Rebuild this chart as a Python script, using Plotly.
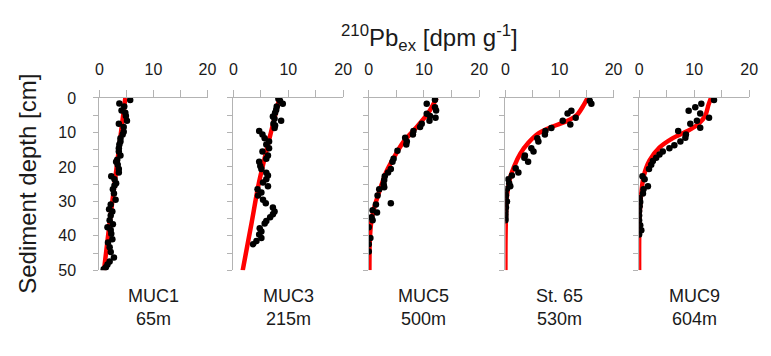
import plotly.graph_objects as go

# ---------------- data ----------------
stations = ["MUC1", "MUC3", "MUC5", "St. 65", "MUC9"]
depths_m = ["65m", "215m", "500m", "530m", "604m"]

x_ticks = [0, 10, 20]
y_ticks = [0, 10, 20, 30, 40, 50]

# measured 210Pb_ex (dpm/g) and depth (cm)
muc1_pb = [5.7, 3.7, 4.6, 4.1, 4.8, 4.9, 5.1, 3.6, 4.5, 4.5, 4.3, 3.9, 3.9, 3.7, 3.6, 3.6, 3.9, 3.3, 3.1, 3.4,
           3.6, 3.6, 2.2, 2.8, 3.1, 2.8, 2.5, 2.7, 3.0, 2.1, 1.8, 2.4, 2.1, 1.9, 2.5, 1.5, 2.1, 2.2, 2.4, 1.6,
           1.9, 2.1, 2.7, 1.9, 1.5, 1.2, 0.8]
muc1_d = [0.6, 1.6, 2.5, 3.6, 4.3, 5.2, 6.6, 7.5, 8.4, 9.8, 10.6, 11.7, 12.6, 13.5, 14.6, 15.5, 16.7, 17.9, 18.5, 19.4,
          20.6, 21.6, 22.7, 23.6, 24.7, 25.4, 26.5, 27.7, 29.5, 30.9, 32.3, 32.9, 34.1, 35.5, 36.6, 37.5, 38.3, 39.4, 41.0, 41.9,
          43.3, 44.7, 46.3, 47.4, 48.3, 49.1, 49.7]

muc3_pb = [8.2, 8.5, 9.0, 7.9, 7.8, 7.6, 7.2, 7.5, 8.7, 7.3, 7.6, 7.5, 4.7, 5.3, 5.7, 6.5, 6.0, 6.5, 5.3, 6.3,
           6.0, 4.7, 4.9, 5.1, 6.0, 6.3, 6.0, 5.4, 6.3, 4.4, 5.1, 4.5, 5.4, 5.9, 7.2, 7.5, 7.2, 6.7, 6.0, 5.7,
           4.8, 5.1, 4.7, 5.1, 4.2, 3.6]
muc3_d = [0.2, 0.8, 1.7, 2.5, 3.4, 4.3, 5.4, 6.0, 6.6, 7.5, 8.0, 8.7, 9.6, 10.6, 11.7, 12.6, 13.5, 14.6, 15.5, 16.7,
          17.6, 18.5, 19.7, 20.6, 21.7, 22.5, 23.6, 24.5, 25.6, 26.5, 27.4, 28.3, 29.5, 30.5, 31.8, 32.9, 33.7, 34.6, 35.7, 36.4,
          37.8, 38.7, 39.6, 40.6, 41.5, 42.4]

muc5_pb = [12.0, 10.5, 12.0, 12.2, 10.5, 11.1, 12.1, 11.0, 9.6, 9.3, 8.1, 8.0, 6.6, 6.9, 6.8, 5.2, 4.5, 4.3, 4.0, 3.5,
           2.9, 2.8, 2.7, 2.8, 1.9, 1.6, 1.3, 4.0, 0.7, 1.5, 0.5, 0.7, 0.0, 0.3, 0.0, 0.0]
muc5_d = [0.5, 1.7, 2.7, 3.6, 4.6, 5.2, 5.7, 6.6, 7.5, 8.4, 9.6, 10.6, 11.5, 12.6, 13.5, 15.3, 17.6, 18.5, 20.6, 21.6,
          22.7, 23.8, 25.0, 25.9, 26.5, 28.3, 30.9, 30.5, 32.6, 33.2, 34.6, 35.5, 37.5, 40.6, 42.4, 44.5]

st65_pb = [15.6, 15.9, 12.2, 11.5, 13.0, 10.6, 12.0, 8.5, 7.4, 7.3, 5.9, 6.1, 4.8, 5.2, 3.6, 3.5, 4.2, 1.9, 2.4, 1.2,
           0.5, 0.7, 0.9, 0.3, 0.0, 0.1, 0.0, 0.3, 0.0, 0.1, 0.0, 0.0, 0.0, 0.0]
st65_d = [0.8, 1.7, 3.7, 4.5, 5.7, 6.6, 7.7, 8.7, 9.6, 10.6, 11.7, 12.6, 14.6, 15.5, 16.7, 17.3, 18.5, 20.4, 21.6, 22.5,
          23.6, 24.7, 25.6, 26.3, 27.2, 28.2, 29.1, 30.0, 30.9, 31.8, 32.9, 33.9, 34.8, 35.5]

muc9_pb = [13.6, 11.3, 10.2, 9.0, 11.1, 12.7, 10.5, 9.3, 11.1, 7.1, 8.5, 8.4, 7.5, 6.4, 5.5, 4.3, 3.7, 3.1, 2.5, 2.2,
           1.8, 0.6, 1.0, 1.6, 0.8, 0.7, 0.1, 0.2, 0.1, 0.0, 0.0, 0.0, 0.2, 0.4, 0.0]
muc9_d = [0.6, 1.7, 2.7, 3.7, 4.5, 5.7, 6.6, 7.5, 8.6, 9.6, 10.6, 11.5, 12.6, 13.7, 14.6, 15.5, 16.4, 17.3, 18.3, 19.4,
          20.6, 22.7, 23.6, 25.6, 26.5, 27.7, 29.1, 30.2, 31.4, 32.8, 34.1, 35.5, 36.9, 38.4, 39.6]

# model fit curves (red)
muc1_fit_pb = [4.8, 3.8, 2.8, 1.8, 0.85]
muc1_fit_d = [0, 12.5, 25, 37.5, 50]

muc3_fit_pb = [8.4, 6.3, 4.6, 3.3, 1.7]
muc3_fit_d = [0, 13.5, 25, 36.4, 50]

muc5_fit_pb = [12.3, 10.8, 8.7, 6.35, 4.57, 3.09, 1.9, 1.0, 0.42, 0.18, 0.12]
muc5_fit_d = [0, 4.3, 8.4, 12.6, 17.2, 21.7, 27.2, 31.8, 36.4, 41.9, 50]

st65_fit_pb = [15.2, 14.5, 13.3, 11.5, 8.5, 6.06, 4.24, 2.73, 1.6, 0.8, 0.3, 0.12, 0.02, 0.0]
st65_fit_d = [0, 2.0, 4.8, 6.6, 8.4, 10.3, 13.0, 16.2, 19.9, 23.6, 28.2, 33.7, 41, 50]

muc9_fit_pb = [13.06, 12.6, 12.0, 10.8, 9.0, 6.05, 3.68, 1.9, 0.83, 0.3, 0.05, 0.0]
muc9_fit_d = [0, 2.0, 5.2, 7.5, 9.4, 11.7, 14.4, 18.1, 22.7, 29.1, 36.4, 50]

pb_series = [muc1_pb, muc3_pb, muc5_pb, st65_pb, muc9_pb]
d_series = [muc1_d, muc3_d, muc5_d, st65_d, muc9_d]
fit_pb = [muc1_fit_pb, muc3_fit_pb, muc5_fit_pb, st65_fit_pb, muc9_fit_pb]
fit_d = [muc1_fit_d, muc3_fit_d, muc5_fit_d, st65_fit_d, muc9_fit_d]

# ---------------- layout geometry (pixels) ----------------
W, H = 771, 356
panel_px = [(97, 207), (233.3, 345), (371, 483.3), (510, 620), (646, 758)]
y_top_px, y_bot_px = 94.5, 275.5

FONT = "'Liberation Sans', Arial, sans-serif"
AX = "#b3b3b3"
TXT = "#1a1a1a"

fig = go.Figure()
layout = dict(
    width=W, height=H,
    margin=dict(l=0, r=0, t=0, b=0),
    paper_bgcolor="white", plot_bgcolor="white",
    showlegend=False,
    font=dict(family=FONT, size=16, color=TXT),
)

for i in range(5):
    n = "" if i == 0 else str(i + 1)
    xa, ya = "x" + n, "y" + n
    fig.add_trace(go.Scatter(x=fit_pb[i], y=fit_d[i], mode="lines",
                             line=dict(color="#ff0000", width=4.5, shape="spline", smoothing=0.8),
                             xaxis=xa, yaxis=ya, hoverinfo="skip"))
    fig.add_trace(go.Scatter(x=pb_series[i], y=d_series[i], mode="markers",
                             marker=dict(color="black", size=6.5),
                             xaxis=xa, yaxis=ya))
    x0, x1 = panel_px[i]
    layout["xaxis" + n] = dict(
        domain=[x0 / W, x1 / W], range=[0, 20], anchor=ya, side="top",
        showline=True, linecolor=AX, linewidth=1, showgrid=False, zeroline=False,
        ticks="outside", ticklen=7, tickcolor=AX, tickwidth=1,
        tickvals=x_ticks, ticktext=[str(v) for v in x_ticks],
        minor=dict(dtick=5, ticks="outside", ticklen=7, tickcolor=AX, showgrid=False),
        tickfont=dict(family=FONT, size=16, color=TXT), ticklabelstandoff=9,
        fixedrange=True,
    )
    layout["yaxis" + n] = dict(
        domain=[1 - y_bot_px / H, 1 - y_top_px / H], range=[50, 0], anchor=xa,
        showline=True, linecolor=AX, linewidth=1, showgrid=False, zeroline=False,
        ticks="outside", ticklen=5, tickcolor=AX, tickwidth=1,
        tickvals=y_ticks, ticktext=[str(v) for v in y_ticks],
        minor=dict(dtick=5, ticks="outside", ticklen=5, tickcolor=AX, showgrid=False),
        showticklabels=(i == 0),
        tickfont=dict(family=FONT, size=16, color=TXT), ticklabelstandoff=14,
        fixedrange=True,
    )

annotations = [
    dict(text="<sup>210</sup>Pb<sub>ex</sub> [dpm g<sup>-1</sup>]", x=433 / W, y=1 - 31 / H,
         xref="paper", yref="paper", showarrow=False, xanchor="center", yanchor="middle",
         font=dict(family=FONT, size=24, color=TXT)),
    dict(text="Sediment depth [cm]", x=24 / W, y=1 - 185 / H, textangle=-90,
         xref="paper", yref="paper", showarrow=False, xanchor="center", yanchor="middle",
         font=dict(family=FONT, size=24, color=TXT)),
]
for i in range(5):
    x0, x1 = panel_px[i]
    annotations.append(dict(text=stations[i] + "<br>" + depths_m[i], x=(x0 + x1) / 2 / W, y=1 - 315 / H,
                            xref="paper", yref="paper", showarrow=False, xanchor="center", yanchor="middle",
                            align="center", font=dict(family=FONT, size=18, color=TXT)))
layout["annotations"] = annotations

fig.update_layout(**layout)
fig.write_html("out.html")
